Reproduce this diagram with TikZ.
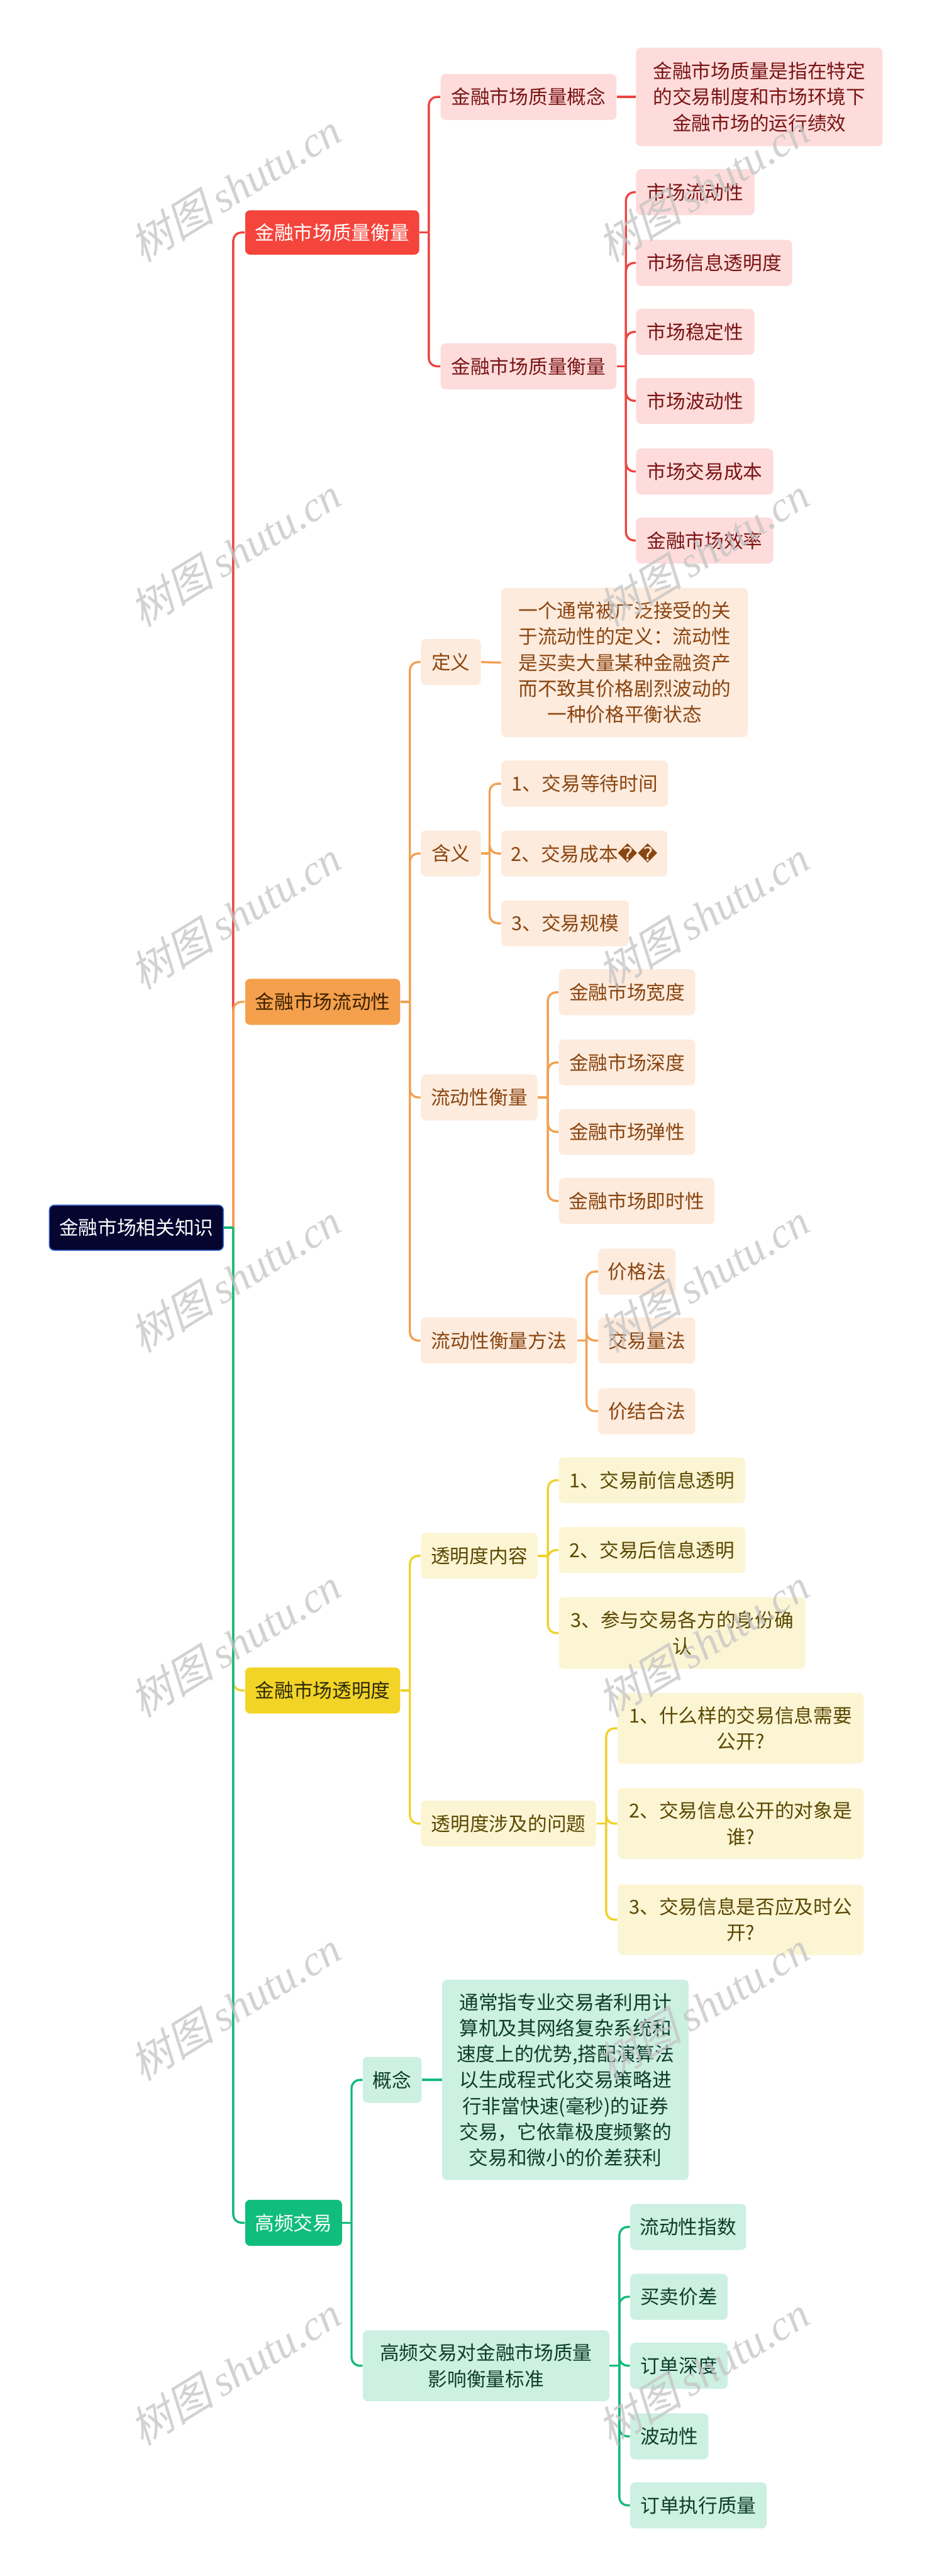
\documentclass[tikz,border=0pt]{standalone}
\usepackage{fontspec}
\newfontfamily\cjk{Noto Sans CJK SC}
\newfontfamily\wmcjk[FakeSlant=0.25]{Noto Sans CJK SC}
\newfontfamily\wmlat{Liberation Serif}
\newfontfamily\dv{DejaVu Sans}
\definecolor{cRoot}{HTML}{050530}
\definecolor{cRootB}{HTML}{3D6FD6}
\definecolor{cRed}{HTML}{F5443B}
\definecolor{cRedLn}{HTML}{EE4540}
\definecolor{cRedL}{HTML}{FDDCDB}
\definecolor{cRedT}{HTML}{7A1414}
\definecolor{cOrg}{HTML}{F4A04C}
\definecolor{cOrgLn}{HTML}{F2A052}
\definecolor{cOrgL}{HTML}{FDEBDD}
\definecolor{cOrgT}{HTML}{8A4510}
\definecolor{cOrgT1}{HTML}{3D2000}
\definecolor{cYlw}{HTML}{F2D427}
\definecolor{cYlwLn}{HTML}{EFD22C}
\definecolor{cYlwL}{HTML}{FCF5D4}
\definecolor{cYlwT}{HTML}{5A4800}
\definecolor{cYlwT1}{HTML}{2E2A0A}
\definecolor{cGrn}{HTML}{10BD7C}
\definecolor{cGrnLn}{HTML}{12BA7B}
\definecolor{cGrnL}{HTML}{CCF0E2}
\definecolor{cGrnT}{HTML}{0E3D2B}
\definecolor{cWm}{HTML}{C4C4C4}
\newcommand\wmtext{{\wmcjk\fontsize{26}{26}\selectfont 树图}\hspace{5pt}{\wmlat\itshape\fontsize{26}{26}\selectfont shutu.cn}}
\tikzset{
  box/.style={anchor=west, rounded corners=3pt, inner sep=0pt, minimum height=28,
    align=center, font=\cjk\fontsize{11.75}{15.8}\selectfont},
  rootbox/.style={box, fill=cRoot, draw=cRootB, line width=0.6pt, text=white},
  redA/.style={box, fill=cRed, text=white},
  redB/.style={box, fill=cRedL, text=cRedT},
  orgA/.style={box, fill=cOrg, text=cOrgT1},
  orgB/.style={box, fill=cOrgL, text=cOrgT},
  ylwA/.style={box, fill=cYlw, text=cYlwT1},
  ylwB/.style={box, fill=cYlwL, text=cYlwT},
  grnA/.style={box, fill=cGrn, text=white},
  grnB/.style={box, fill=cGrnL, text=cGrnT},
  lk/.style={line width=1.3pt, rounded corners=5pt},
  redl/.style={lk, draw=cRedLn},
  orgl/.style={lk, draw=cOrgLn},
  ylwl/.style={lk, draw=cYlwLn},
  grnl/.style={lk, draw=cGrnLn},
  wm/.style={rotate=31.5, text=cWm, opacity=0.75, inner sep=0pt}
}
\begin{document}
\begin{tikzpicture}[x=1pt,y=-1pt]
\useasboundingbox (0,0) rectangle (567,1568);
\fill[white] (0,0) rectangle (567,1568);

% root
\node[rootbox, minimum width=106, minimum height=27.5] (root) at (29.7,747.3) {金融市场相关知识};

% ---------- red branch
\node[redA, minimum width=106, minimum height=27] (r1) at (149,141.5) {金融市场质量衡量};
\node[redB, minimum width=107] (r11) at (268,59) {金融市场质量概念};
\node[redB, minimum width=150, minimum height=60] (r11d) at (387,59) {金融市场质量是指在特定\\的交易制度和市场环境下\\金融市场的运行绩效};
\node[redB, minimum width=107] (r12) at (268,223) {金融市场质量衡量};
\node[redB, minimum width=72] (r121) at (387,117) {市场流动性};
\node[redB, minimum width=95] (r122) at (387,160) {市场信息透明度};
\node[redB, minimum width=72] (r123) at (387,202) {市场稳定性};
\node[redB, minimum width=72] (r124) at (387,244) {市场波动性};
\node[redB, minimum width=83.5] (r125) at (387,287) {市场交易成本};
\node[redB, minimum width=83.5] (r126) at (387,329) {金融市场效率};

% ---------- orange branch
\node[orgA, minimum width=94.4] (o1) at (149,609.8) {金融市场流动性};
\node[orgB, minimum width=36.5] (o11) at (256,403) {定义};
\node[orgB, minimum width=150, minimum height=91] (o11d) at (305,403.3) {一个通常被广泛接受的关\\于流动性的定义：流动性\\是买卖大量某种金融资产\\而不致其价格剧烈波动的\\一种价格平衡状态};
\node[orgB, minimum width=36.5] (o12) at (256,519.5) {含义};
\node[orgB, minimum width=101.5] (o121) at (305,477) {1、交易等待时间};
\node[orgB, minimum width=101] (o122) at (305,519.5) {2、交易成本{\dv\symbol{"FFFD}\symbol{"FFFD}}};
\node[orgB, minimum width=77.6] (o123) at (305,562) {3、交易规模};
\node[orgB, minimum width=71] (o13) at (256,668) {流动性衡量};
\node[orgB, minimum width=83] (o131) at (340,604) {金融市场宽度};
\node[orgB, minimum width=83] (o132) at (340,646.7) {金融市场深度};
\node[orgB, minimum width=83] (o133) at (340,689) {金融市场弹性};
\node[orgB, minimum width=94.7] (o134) at (340,731) {金融市场即时性};
\node[orgB, minimum width=95] (o14) at (256,816) {流动性衡量方法};
\node[orgB, minimum width=47] (o141) at (364,774) {价格法};
\node[orgB, minimum width=59] (o142) at (364,816) {交易量法};
\node[orgB, minimum width=59] (o143) at (364,859) {价结合法};

% ---------- yellow branch
\node[ylwA, minimum width=94.4] (y1) at (149,1029) {金融市场透明度};
\node[ylwB, minimum width=71] (y11) at (256,947) {透明度内容};
\node[ylwB, minimum width=113.5] (y111) at (340,901) {1、交易前信息透明};
\node[ylwB, minimum width=113.5] (y112) at (340,943.5) {2、交易后信息透明};
\node[ylwB, minimum width=150, minimum height=43.6] (y113) at (340,994) {3、参与交易各方的身份确\\认};
\node[ylwB, minimum width=106.7] (y12) at (256,1110) {透明度涉及的问题};
\node[ylwB, minimum width=149.7, minimum height=43] (y121) at (375.8,1052) {1、什么样的交易信息需要\\公开?};
\node[ylwB, minimum width=149.7, minimum height=43] (y122) at (375.8,1110) {2、交易信息公开的对象是\\谁?};
\node[ylwB, minimum width=149.7, minimum height=43] (y123) at (375.8,1168.5) {3、交易信息是否应及时公\\开?};

% ---------- green branch
\node[grnA, minimum width=59] (g1) at (149,1353) {高频交易};
\node[grnB, minimum width=35.8] (g11) at (220.6,1266) {概念};
\node[grnB, minimum width=150, minimum height=122] (g11d) at (269,1266) {通常指专业交易者利用计\\算机及其网络复杂系统和\\速度上的优势,搭配演算法\\以生成程式化交易策略进\\行非當快速(毫秒)的证券\\交易，它依靠极度频繁的\\交易和微小的价差获利};
\node[grnB, minimum width=150.1, minimum height=43.2] (g12) at (220.6,1440) {高频交易对金融市场质量\\影响衡量标准};
\node[grnB, minimum width=70.6] (g121) at (383.4,1355.5) {流动性指数};
\node[grnB, minimum width=59.3] (g122) at (383.4,1398) {买卖价差};
\node[grnB, minimum width=59.3] (g123) at (383.4,1440) {订单深度};
\node[grnB, minimum width=47.6] (g124) at (383.4,1483) {波动性};
\node[grnB, minimum width=83.1] (g125) at (383.4,1525) {订单执行质量};

% ---------- junction coordinates
\coordinate (jroot) at (142,747.3);
\coordinate (jr1) at (261,141.5);
\coordinate (jr12) at (381,223);
\coordinate (jo1) at (249.5,609.8);
\coordinate (jo12) at (298,519.5);
\coordinate (jo13) at (333.5,668);
\coordinate (jo14) at (357,816);
\coordinate (jy1) at (249.5,1029);
\coordinate (jy11) at (333.5,947);
\coordinate (jy12) at (369,1110);
\coordinate (jg1) at (214,1353);
\coordinate (jg12) at (377,1440);

% ---------- red links
\draw[redl] (jroot) |- (r1.west);
\draw[redl] (r1.east) -- (jr1);
\draw[redl] (jr1) |- (r11.west);
\draw[redl] (jr1) |- (r12.west);
\draw[redl] (r11.east) -- (r11d.west);
\draw[redl] (r12.east) -- (jr12);
\foreach \n in {r121,r122,r123,r124,r125,r126} \draw[redl] (jr12) |- (\n.west);

% ---------- orange links
\draw[orgl] (jroot) |- (o1.west);
\draw[orgl] (o1.east) -- (jo1);
\foreach \n in {o11,o12,o13,o14} \draw[orgl] (jo1) |- (\n.west);
\draw[orgl] (o11.east) -- (o11d.west);
\draw[orgl] (o12.east) -- (jo12);
\foreach \n in {o121,o122,o123} \draw[orgl] (jo12) |- (\n.west);
\draw[orgl] (o13.east) -- (jo13);
\foreach \n in {o131,o132,o133,o134} \draw[orgl] (jo13) |- (\n.west);
\draw[orgl] (o14.east) -- (jo14);
\foreach \n in {o141,o142,o143} \draw[orgl] (jo14) |- (\n.west);

% ---------- yellow links
\draw[ylwl] (jroot) |- (y1.west);
\draw[ylwl] (y1.east) -- (jy1);
\foreach \n in {y11,y12} \draw[ylwl] (jy1) |- (\n.west);
\draw[ylwl] (y11.east) -- (jy11);
\foreach \n in {y111,y112,y113} \draw[ylwl] (jy11) |- (\n.west);
\draw[ylwl] (y12.east) -- (jy12);
\foreach \n in {y121,y122,y123} \draw[ylwl] (jy12) |- (\n.west);

% ---------- green links
\draw[grnl] (jroot) |- (g1.west);
\draw[grnl] (root.east) -- (jroot);
\draw[grnl] (g1.east) -- (jg1);
\foreach \n in {g11,g12} \draw[grnl] (jg1) |- (\n.west);
\draw[grnl] (g11.east) -- (g11d.west);
\draw[grnl] (g12.east) -- (jg12);
\foreach \n in {g121,g122,g123,g124,g125} \draw[grnl] (jg12) |- (\n.west);

% ---------- watermark
\foreach \yy [count=\i] in {114,336,557,778,1000,1221,1443} {
  \node[wm] (wl\i) at (143,\yy) {\wmtext};
  \node[wm] (wr\i) at (428,\yy) {\wmtext};
}
\end{tikzpicture}
\end{document}
